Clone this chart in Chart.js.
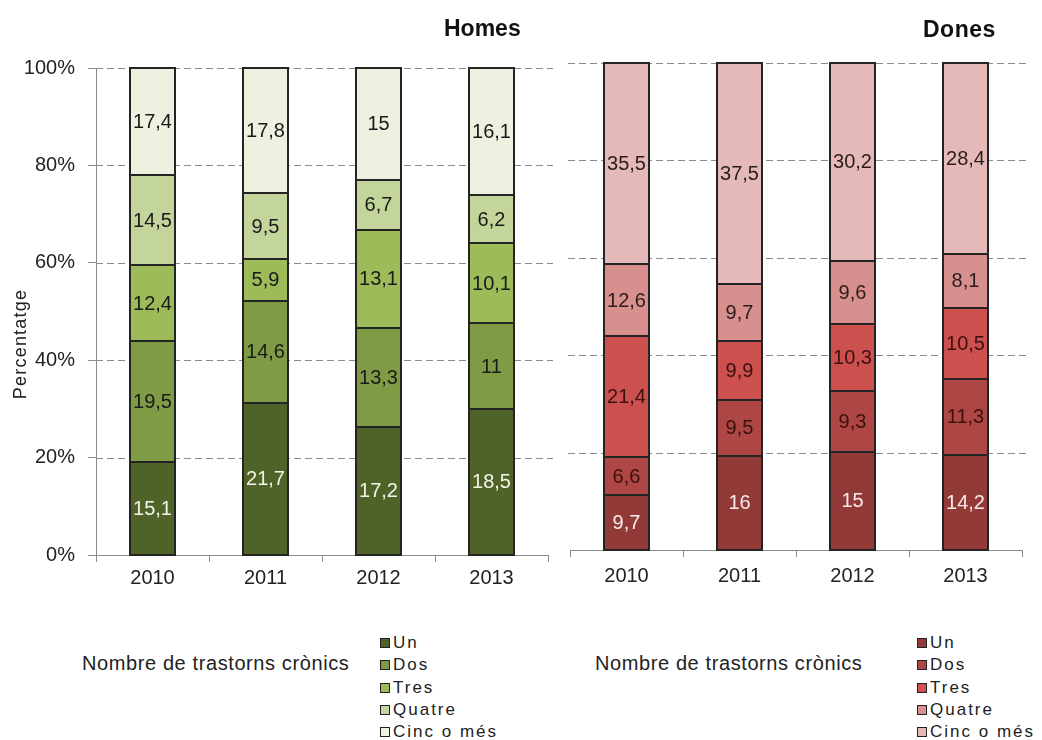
<!DOCTYPE html>
<html lang="ca">
<head>
<meta charset="utf-8">
<title>Nombre de trastorns crònics per sexe, 2010-2013</title>
<script src="https://cdn.jsdelivr.net/npm/chart.js@4.4.1/dist/chart.umd.min.js"></script>
<style>
  html, body { margin: 0; padding: 0; background: #fff; }
  body {
    width: 1042px; height: 740px; position: relative; overflow: hidden;
    font-family: "Liberation Sans", Arial, sans-serif; color: #222;
  }
  canvas { position: absolute; top: 0; }
  #homesCanvas { left: 0; }
  #donesCanvas { left: 560px; }
  .panel-title {
    position: absolute; font-weight: bold; font-size: 23px; line-height: 28px;
    color: #111; white-space: nowrap;
  }
  .y-title {
    position: absolute; width: 200px; text-align: center; font-size: 18px;
    line-height: 22px; letter-spacing: 1.2px; transform: rotate(-90deg); white-space: nowrap;
  }
  .legend-name {
    position: absolute; font-size: 20px; line-height: 24px; letter-spacing: 0.6px; white-space: nowrap;
  }
  .legend-list {
    position: absolute; list-style: none; margin: 0; padding: 0;
    font-size: 17px; letter-spacing: 2px; white-space: nowrap;
  }
  .legend-list li { height: 22.3px; display: flex; align-items: center; }
  .legend-list .sw {
    width: 8px; height: 8px; border: 1px solid #222; margin-right: 3px; flex: none;
  }
</style>
</head>
<body>
<canvas id="homesCanvas" width="560" height="610"></canvas>
<canvas id="donesCanvas" width="482" height="610"></canvas>

<div class="panel-title" style="left:444px; top:14px;">Homes</div>
<div class="panel-title" style="left:923px; top:15px; letter-spacing:0.5px;">Dones</div>
<div class="y-title" style="left:-80px; top:333px;">Percentatge</div>

<div class="legend-name" style="left:82px; top:651px;">Nombre de trastorns crònics</div>
<ul class="legend-list" id="homesLegend" style="left:380px; top:632px;"></ul>
<div class="legend-name" style="left:595px; top:651px;">Nombre de trastorns crònics</div>
<ul class="legend-list" id="donesLegend" style="left:917px; top:632px;"></ul>

<script>
// Categories and series
const years = ['2010', '2011', '2012', '2013'];
const seriesNames = ['Un', 'Dos', 'Tres', 'Quatre', 'Cinc o més'];
const yTicks = [0, 20, 40, 60, 80, 100];

// Homes: values per number of chronic disorders
const homesUn     = [15.1, 21.7, 17.2, 18.5];
const homesDos    = [19.5, 14.6, 13.3, 11];
const homesTres   = [12.4, 5.9, 13.1, 10.1];
const homesQuatre = [14.5, 9.5, 6.7, 6.2];
const homesCinc   = [17.4, 17.8, 15, 16.1];

// Dones: values per number of chronic disorders
const donesUn     = [9.7, 16, 15, 14.2];
const donesDos    = [6.6, 9.5, 9.3, 11.3];
const donesTres   = [21.4, 9.9, 10.3, 10.5];
const donesQuatre = [12.6, 9.7, 9.6, 8.1];
const donesCinc   = [35.5, 37.5, 30.2, 28.4];

// Palettes
const homesColors = ['#4f6228', '#7f9b45', '#9dbb58', '#c3d59b', '#edf1e0'];
const donesColors = ['#923a38', '#ad4644', '#cc504e', '#d8908e', '#e4b9b8'];
const homesLabelColors = ['#f4f4e6', '#1a1a1a', '#1a1a1a', '#1a1a1a', '#1a1a1a'];
const donesLabelColors = ['#f8eaea', '#3d1010', '#3d1010', '#2a1c1c', '#2a1c1c'];

const FONT = '"Liberation Sans", Arial, sans-serif';
const AXIS_GREY = '#8c8c8c';

// Dashed horizontal guides, drawn under the bars and slightly past the plot area
const guideLines = {
  id: 'guideLines',
  beforeDatasetsDraw(chart, args, opts) {
    const { ctx, chartArea: a } = chart;
    const ys = chart.scales.y;
    ctx.save();
    ctx.strokeStyle = opts.color;
    ctx.lineWidth = 1;
    ctx.setLineDash(opts.dash);
    yTicks.forEach(v => {
      if (v === 0) return;
      const y = Math.round(ys.getPixelForValue(v)) + 0.5;
      ctx.beginPath();
      ctx.moveTo(a.left - opts.extendLeft, y);
      ctx.lineTo(a.right + opts.extendRight, y);
      ctx.stroke();
    });
    ctx.restore();
  }
};

// Crisp dark outline round every stacked segment
const segmentOutlines = {
  id: 'segmentOutlines',
  afterDatasetsDraw(chart) {
    const ctx = chart.ctx;
    ctx.save();
    ctx.strokeStyle = '#242424';
    ctx.lineWidth = 2;
    chart.data.datasets.forEach((ds, d) => {
      chart.getDatasetMeta(d).data.forEach(bar => {
        const p = bar.getProps(['x', 'y', 'base', 'width'], true);
        const left = Math.round(p.x - p.width / 2);
        const right = Math.round(p.x + p.width / 2);
        const top = Math.round(Math.min(p.y, p.base));
        const bottom = Math.round(Math.max(p.y, p.base));
        ctx.strokeRect(left, top, right - left, bottom - top);
      });
    });
    ctx.restore();
  }
};

// Raw value written at the centre of each stacked segment
const valueLabels = {
  id: 'valueLabels',
  afterDatasetsDraw(chart) {
    const ctx = chart.ctx;
    ctx.save();
    ctx.font = '20px ' + FONT;
    ctx.textAlign = 'center';
    ctx.textBaseline = 'middle';
    chart.data.datasets.forEach((ds, d) => {
      const meta = chart.getDatasetMeta(d);
      meta.data.forEach((bar, i) => {
        const p = bar.getProps(['x', 'y', 'base'], true);
        ctx.fillStyle = ds.labelColor;
        ctx.fillText(String(ds.rawValues[i]).replace('.', ','), p.x, (p.y + p.base) / 2 + 1);
      });
    });
    ctx.restore();
  }
};

function buildPanel(canvasId, series, colors, labelColors, layout) {
  const totals = years.map((_, i) => series.reduce((sum, s) => sum + s[i], 0));
  const datasets = seriesNames.map((name, s) => ({
    label: name,
    data: years.map((_, i) => series[s][i] / totals[i] * 100),
    rawValues: series[s],
    labelColor: labelColors[s],
    backgroundColor: colors[s],
    borderWidth: 0,
    barPercentage: 0.4,
    categoryPercentage: 1
  }));

  return new Chart(document.getElementById(canvasId), {
    type: 'bar',
    data: { labels: years, datasets },
    plugins: [guideLines, segmentOutlines, valueLabels],
    options: {
      responsive: false,
      animation: false,
      layout: { padding: { top: layout.top, right: layout.right, left: 0, bottom: 0 } },
      plugins: {
        legend: { display: false },
        tooltip: { enabled: false },
        guideLines: { color: '#8a8a8a', dash: [7, 4], extendLeft: layout.gridLeft, extendRight: layout.gridRight }
      },
      scales: {
        x: {
          stacked: true,
          offset: true,
          grid: { display: true, offset: true, drawOnChartArea: false, drawTicks: true, tickLength: 7, color: AXIS_GREY },
          border: { display: true, color: AXIS_GREY, width: 1 },
          ticks: { color: '#222', font: { family: FONT, size: 20 }, padding: layout.xPad, maxRotation: 0 },
          afterFit(scale) { scale.height = layout.xHeight; }
        },
        y: {
          stacked: true,
          min: 0,
          max: 100,
          afterBuildTicks(scale) { scale.ticks = yTicks.map(v => ({ value: v })); },
          ticks: {
            display: layout.showY,
            color: '#222',
            font: { family: FONT, size: 20 },
            padding: 13,
            callback: v => v + '%'
          },
          grid: { display: layout.showY, drawOnChartArea: false, drawTicks: true, tickLength: 8, color: AXIS_GREY },
          border: { display: layout.showY, color: AXIS_GREY, width: 1 },
          afterFit(scale) { scale.width = layout.yWidth; }
        }
      }
    }
  });
}

buildPanel('homesCanvas',
  [homesUn, homesDos, homesTres, homesQuatre, homesCinc],
  homesColors, homesLabelColors,
  { top: 68, right: 12, yWidth: 96, xHeight: 55, xPad: 4, showY: true, gridLeft: 0, gridRight: 5 });

buildPanel('donesCanvas',
  [donesUn, donesDos, donesTres, donesQuatre, donesCinc],
  donesColors, donesLabelColors,
  { top: 63, right: 20, yWidth: 10, xHeight: 60, xPad: 7, showY: false, gridLeft: 2, gridRight: 6 });

// Legends built from the same series names and colours
function fillLegend(listId, colors) {
  const ul = document.getElementById(listId);
  seriesNames.forEach((name, s) => {
    const li = document.createElement('li');
    const sw = document.createElement('span');
    sw.className = 'sw';
    sw.style.background = colors[s];
    li.appendChild(sw);
    li.appendChild(document.createTextNode(name));
    ul.appendChild(li);
  });
}
fillLegend('homesLegend', homesColors);
fillLegend('donesLegend', donesColors);
</script>
</body>
</html>
